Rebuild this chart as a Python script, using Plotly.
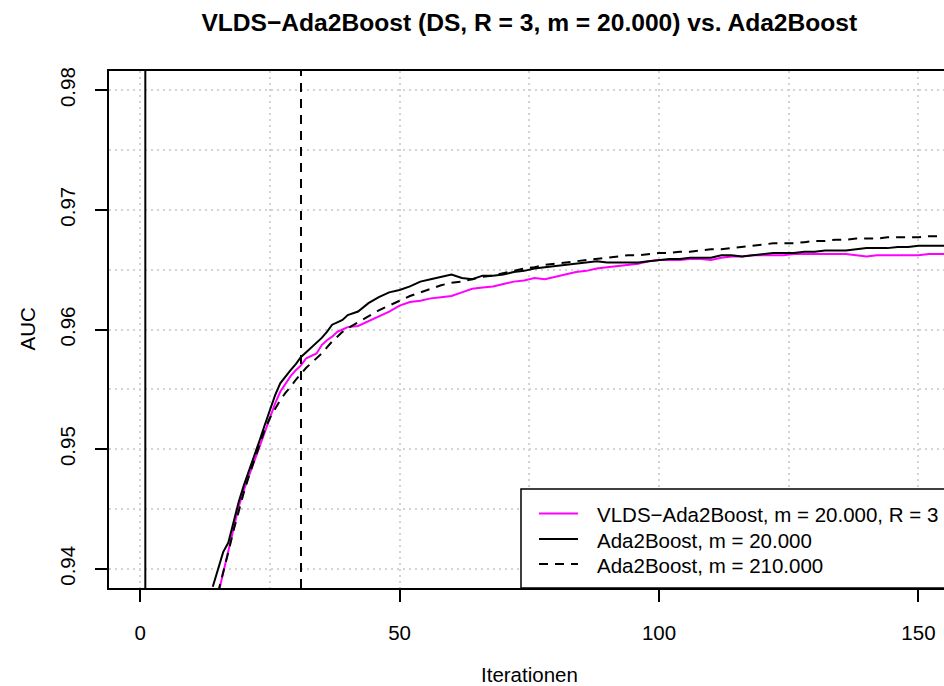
import plotly.graph_objects as go

# Boosting iterations at which AUC was recorded
iterations = list(range(14, 41)) + list(range(42, 157, 2))

# VLDS-Ada2Boost, m = 20.000, R = 3
auc_vlds = [
    None, 0.9378, 0.9396, 0.9414, 0.9432, 0.9452, 0.9466, 0.9478, 0.9490,
    0.9502, 0.9514, 0.9526, 0.9538, 0.9548, 0.9555, 0.9561, 0.9566, 0.9570,
    0.9576, 0.9578, 0.9580, 0.9587, 0.9591, 0.9594, 0.9598, 0.9600, 0.9602,
    0.9603, 0.9607, 0.9611, 0.9615, 0.9620,
    0.9623, 0.9624, 0.9626, 0.9627, 0.9628,
    0.9631, 0.9634, 0.9635, 0.9636, 0.9638,
    0.9640, 0.9641, 0.9643, 0.9642, 0.9644,
    0.9646, 0.9648, 0.9649, 0.9651, 0.9652,
    0.9653, 0.9654, 0.9655, 0.9657, 0.9658,
    0.9658, 0.9658, 0.9659, 0.9659, 0.9658,
    0.9660, 0.9661, 0.9661, 0.9662, 0.9662,
    0.9662, 0.9662, 0.9663, 0.9663, 0.9663,
    0.9663, 0.9663, 0.9663, 0.9662, 0.9661,
    0.9662, 0.9662, 0.9662, 0.9662, 0.9662,
    0.9663, 0.9663, 0.9663,
]

# Ada2Boost, m = 20.000
auc_ada_20k = [
    0.9385, 0.9400, 0.9414, 0.9422, 0.9440, 0.9456, 0.9470, 0.9482, 0.9494,
    0.9507, 0.9520, 0.9533, 0.9545, 0.9555, 0.9561, 0.9566, 0.9571, 0.9577,
    0.9581, 0.9585, 0.9589, 0.9593, 0.9598, 0.9604, 0.9606, 0.9608, 0.9612,
    0.9615, 0.9622, 0.9627, 0.9631, 0.9633,
    0.9636, 0.9640, 0.9642, 0.9644, 0.9646,
    0.9643, 0.9642, 0.9645, 0.9645, 0.9646,
    0.9648, 0.9649, 0.9651, 0.9652, 0.9653,
    0.9654, 0.9655, 0.9656, 0.9657, 0.9656,
    0.9656, 0.9656, 0.9656, 0.9657, 0.9658,
    0.9659, 0.9659, 0.9660, 0.9660, 0.9660,
    0.9662, 0.9662, 0.9661, 0.9662, 0.9663,
    0.9664, 0.9664, 0.9664, 0.9665, 0.9665,
    0.9666, 0.9666, 0.9666, 0.9667, 0.9668,
    0.9668, 0.9668, 0.9669, 0.9669, 0.9670,
    0.9670, 0.9670, 0.9670,
]

# Ada2Boost, m = 210.000
auc_ada_210k = [
    None, 0.9380, 0.9396, 0.9414, 0.9432, 0.9449, 0.9464, 0.9478, 0.9491,
    0.9503, 0.9516, 0.9526, 0.9534, 0.9541, 0.9547, 0.9552, 0.9558, 0.9563,
    0.9568, 0.9572, 0.9576, 0.9580, 0.9585, 0.9590, 0.9594, 0.9598, 0.9601,
    0.9606, 0.9611, 0.9616, 0.9620, 0.9624,
    0.9628, 0.9631, 0.9634, 0.9637, 0.9639,
    0.9640, 0.9642, 0.9644, 0.9645, 0.9647,
    0.9649, 0.9651, 0.9652, 0.9654, 0.9655,
    0.9656, 0.9657, 0.9658, 0.9659, 0.9660,
    0.9661, 0.9662, 0.9662, 0.9663, 0.9664,
    0.9664, 0.9665, 0.9665, 0.9666, 0.9667,
    0.9667, 0.9668, 0.9669, 0.9670, 0.9671,
    0.9672, 0.9672, 0.9672, 0.9673, 0.9674,
    0.9674, 0.9675, 0.9675, 0.9676, 0.9676,
    0.9676, 0.9677, 0.9677, 0.9677, 0.9677,
    0.9678, 0.9678, 0.9678,
]

series_names = [
    "VLDS\u2212Ada2Boost, m = 20.000, R = 3",
    "Ada2Boost, m = 20.000",
    "Ada2Boost, m = 210.000",
]

# Reference iterations marked by vertical lines
marker_iter_solid = 1
marker_iter_dashed = 31

x_ticks = [0, 50, 100, 150]
y_ticks = [0.94, 0.95, 0.96, 0.97, 0.98]
y_ticklabels = ["0.94", "0.95", "0.96", "0.97", "0.98"]

FONT = "Liberation Sans, Arial, Helvetica, sans-serif"
BASE = 20.5
GRID = "#D3D3D3"
DASH = "9px,7px"

# Plot-area geometry in pixels (used to place the legend box and labels)
W, H = 944, 686
L, R, T, B = 109, 0, 71, 98
PW, PH = W - L - R, H - T - B


def px_x(px):
    return (px - L) / PW


def px_y(py):
    return (H - B - py) / PH


styles = [
    dict(color="#FF00FF", width=2),
    dict(color="black", width=2),
    dict(color="black", width=2, dash=DASH),
]
series = [auc_vlds, auc_ada_20k, auc_ada_210k]

fig = go.Figure()
for name, values, style in zip(series_names, series, styles):
    fig.add_trace(go.Scatter(
        x=iterations, y=values, mode="lines", name=name,
        line=dict(style), showlegend=False,
    ))

fig.add_vline(x=marker_iter_solid, line=dict(color="black", width=2))
fig.add_vline(x=marker_iter_dashed, line=dict(color="black", width=2, dash=DASH))

# Legend box in the bottom-right corner of the plot area
fig.add_shape(
    type="rect", xref="paper", yref="paper",
    x0=px_x(521), x1=px_x(990), y0=0, y1=px_y(489),
    line=dict(color="black", width=1.5), fillcolor="white", layer="above",
)
row_y = [513.5, 539.0, 564.0]
for name, style, ry in zip(series_names, styles, row_y):
    fig.add_shape(
        type="line", xref="paper", yref="paper",
        x0=px_x(539), x1=px_x(578), y0=px_y(ry), y1=px_y(ry),
        line=dict(style), layer="above",
    )
    fig.add_annotation(
        text=name, xref="paper", yref="paper",
        x=px_x(595), y=px_y(ry + 1), xanchor="left", yanchor="middle",
        showarrow=False, font=dict(family=FONT, size=BASE, color="black"),
    )

fig.add_annotation(
    text="Iterationen", xref="paper", yref="paper",
    x=px_x(529.3), y=px_y(674),
    xanchor="center", yanchor="middle", showarrow=False,
    font=dict(family=FONT, size=BASE, color="black"),
)
fig.add_annotation(
    text="AUC", xref="paper", yref="paper",
    x=px_x(27), y=0.5, textangle=-90,
    xanchor="center", yanchor="middle", showarrow=False,
    font=dict(family=FONT, size=BASE, color="black"),
)

fig.update_layout(
    width=W, height=H,
    margin=dict(l=L, r=R, t=T, b=B),
    paper_bgcolor="white", plot_bgcolor="white",
    font=dict(family=FONT, size=BASE, color="black"),
    title=dict(
        text="VLDS\u2212Ada2Boost (DS, R = 3, m = 20.000) vs. Ada2Boost",
        font=dict(family=FONT, size=24.6, weight="bold", color="black"),
        x=529.3 / W, xref="container", xanchor="center",
        y=1 - 22 / H, yref="container", yanchor="middle",
    ),
    showlegend=False,
    xaxis=dict(
        range=[-6, 154.92],
        tickmode="array", tickvals=x_ticks,
        ticks="outside", ticklen=12, tickwidth=1.5, tickcolor="black",
        showline=True, linecolor="black", linewidth=1.5, mirror=True,
        showgrid=True, gridcolor=GRID, gridwidth=1.5, griddash="2px,4px",
        minor=dict(dtick=25, tick0=0, showgrid=True, gridcolor=GRID,
                   gridwidth=1.5, griddash="2px,4px"),
        zeroline=False,
        ticklabelstandoff=14,
    ),
    yaxis=dict(
        range=[0.9384, 0.9816],
        tickmode="array", tickvals=y_ticks, ticktext=y_ticklabels,
        tickangle=-90,
        ticks="outside", ticklen=12, tickwidth=1.5, tickcolor="black",
        showline=True, linecolor="black", linewidth=1.5,
        showgrid=True, gridcolor=GRID, gridwidth=1.5, griddash="2px,4px",
        minor=dict(dtick=0.005, tick0=0.94, showgrid=True, gridcolor=GRID,
                   gridwidth=1.5, griddash="2px,4px"),
        zeroline=False,
        ticklabelstandoff=12,
    ),
)

fig.write_html("out.html")
